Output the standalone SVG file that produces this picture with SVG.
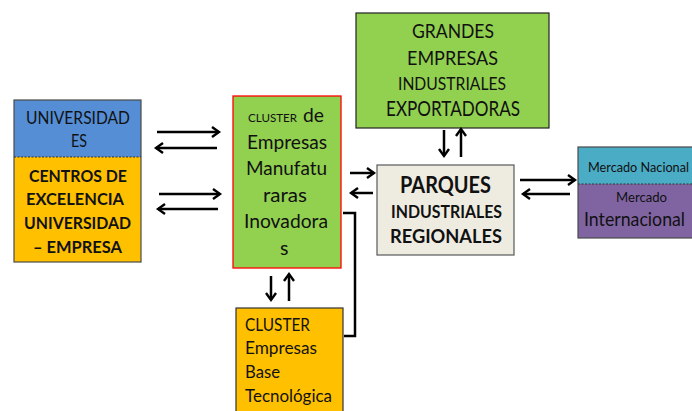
<svg xmlns="http://www.w3.org/2000/svg" width="692" height="411" viewBox="0 0 692 411">
<defs>
<marker id="ah" markerUnits="userSpaceOnUse" markerWidth="14" markerHeight="14" viewBox="-10 -7 12 14" refX="0" refY="0" orient="auto">
<path d="M-7,-5 L0,0 L-7,5" fill="none" stroke="#000" stroke-width="2.4" stroke-linejoin="miter"/>
</marker>
</defs>
<style>
text{font-family:Lato,"Open Sans","Liberation Sans",sans-serif;fill:#111;}
.b{font-weight:bold;}
.box{stroke:#4a4a4a;stroke-width:1.2;}
.div{stroke:#333;stroke-width:1;stroke-dasharray:2,1.5;}
.arr{stroke:#000;stroke-width:2.5;fill:none;marker-end:url(#ah);}
.ln{stroke:#000;stroke-width:2.5;fill:none;}
</style>
<rect width="692" height="411" fill="#fff"/>

<g id="universidad">
<rect x="14" y="100" width="127" height="57" fill="#558ED5"/>
<rect x="14" y="157" width="127" height="105" fill="#FFC000"/>
<rect x="14" y="100" width="127" height="162" fill="none" class="box"/>
<line x1="14" y1="157" x2="141" y2="157" class="div"/>
<text x="26" y="124" font-size="17" textLength="104" lengthAdjust="spacingAndGlyphs">UNIVERSIDAD</text>
<text x="71" y="147" font-size="17" textLength="16" lengthAdjust="spacingAndGlyphs">ES</text>
<text x="29" y="182" font-size="17" class="b" textLength="98" lengthAdjust="spacingAndGlyphs">CENTROS DE</text>
<text x="26" y="205" font-size="17" class="b" textLength="98" lengthAdjust="spacingAndGlyphs">EXCELENCIA</text>
<text x="24" y="229" font-size="17" class="b" textLength="107" lengthAdjust="spacingAndGlyphs">UNIVERSIDAD</text>
<text x="33" y="253" font-size="17" class="b" textLength="89" lengthAdjust="spacingAndGlyphs">– EMPRESA</text>
</g>

<g id="cluster">
<rect x="233" y="96" width="108" height="172" fill="#92D050" stroke="#FF0000" stroke-width="1.3"/>
<text x="248" y="122" font-size="11.5" textLength="49" lengthAdjust="spacingAndGlyphs">CLUSTER</text>
<text x="303" y="122" font-size="19.5" textLength="21" lengthAdjust="spacingAndGlyphs">de</text>
<text x="247" y="149" font-size="19.5" textLength="80" lengthAdjust="spacingAndGlyphs">Empresas</text>
<text x="246" y="175" font-size="19.5" textLength="81" lengthAdjust="spacingAndGlyphs">Manufatu</text>
<text x="263" y="202" font-size="19.5" textLength="44" lengthAdjust="spacingAndGlyphs">raras</text>
<text x="244" y="228" font-size="19.5" textLength="84" lengthAdjust="spacingAndGlyphs">Inovadora</text>
<text x="280" y="255" font-size="19.5">s</text>
</g>

<g id="grandes">
<rect x="356" y="13" width="193" height="115" fill="#92D050" stroke="#222" stroke-width="1.2"/>
<text x="412" y="38" font-size="19" textLength="82" lengthAdjust="spacingAndGlyphs">GRANDES</text>
<text x="407" y="65" font-size="20" textLength="91" lengthAdjust="spacingAndGlyphs">EMPRESAS</text>
<text x="398" y="90" font-size="17.5" textLength="108" lengthAdjust="spacingAndGlyphs">INDUSTRIALES</text>
<text x="386" y="116" font-size="20.5" textLength="134" lengthAdjust="spacingAndGlyphs">EXPORTADORAS</text>
</g>

<g id="parques">
<rect x="377" y="165" width="137" height="90" fill="#EEECE1" stroke="#595959" stroke-width="1.2"/>
<text x="400" y="193" font-size="22" class="b" textLength="91" lengthAdjust="spacingAndGlyphs">PARQUES</text>
<text x="391" y="218" font-size="16.5" class="b" textLength="111" lengthAdjust="spacingAndGlyphs">INDUSTRIALES</text>
<text x="390" y="243" font-size="19" class="b" textLength="112" lengthAdjust="spacingAndGlyphs">REGIONALES</text>
</g>

<g id="mercado">
<rect x="578" y="147" width="124" height="37" fill="#4BACC6"/>
<rect x="578" y="184" width="124" height="54" fill="#8064A2"/>
<rect x="578" y="147" width="124" height="91" fill="none" class="box"/>
<line x1="578" y1="184" x2="692" y2="184" class="div"/>
<text x="588" y="172" font-size="13" textLength="101" lengthAdjust="spacingAndGlyphs">Mercado Nacional</text>
<text x="616" y="202" font-size="13.5" textLength="51" lengthAdjust="spacingAndGlyphs">Mercado</text>
<text x="584" y="226" font-size="19" textLength="101" lengthAdjust="spacingAndGlyphs">Internacional</text>
</g>

<g id="cluster-base">
<rect x="236" y="308" width="107" height="110" fill="#FFC000" stroke="#333" stroke-width="1.2"/>
<text x="245" y="331" font-size="17" textLength="65" lengthAdjust="spacingAndGlyphs">CLUSTER</text>
<text x="245" y="354" font-size="17" textLength="72" lengthAdjust="spacingAndGlyphs">Empresas</text>
<text x="245" y="378" font-size="17" textLength="35" lengthAdjust="spacingAndGlyphs">Base</text>
<text x="245" y="402" font-size="17" textLength="87" lengthAdjust="spacingAndGlyphs">Tecnológica</text>
</g>

<g id="connectors">
<line x1="157" y1="132" x2="219" y2="132" class="arr"/>
<line x1="217" y1="148" x2="156" y2="148" class="arr"/>
<line x1="159" y1="194" x2="220" y2="194" class="arr"/>
<line x1="218" y1="209" x2="158" y2="209" class="arr"/>
<line x1="350" y1="173" x2="374" y2="173" class="arr"/>
<line x1="373" y1="193" x2="351" y2="193" class="arr"/>
<line x1="444" y1="130" x2="444" y2="156" class="arr"/>
<line x1="461" y1="157" x2="461" y2="129" class="arr"/>
<line x1="271" y1="276" x2="271" y2="300" class="arr"/>
<line x1="289" y1="301" x2="289" y2="274" class="arr"/>
<line x1="520" y1="180" x2="575" y2="180" class="arr"/>
<line x1="570" y1="194" x2="523" y2="194" class="arr"/>
<path d="M343,213 H355 V336 H344" class="ln"/>
</g>
</svg>
